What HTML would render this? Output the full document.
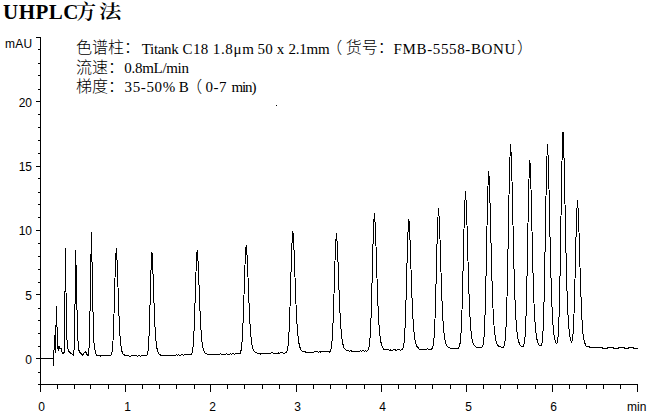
<!DOCTYPE html>
<html><head><meta charset="utf-8"><style>
html,body{margin:0;padding:0;background:#fff;}
body{width:650px;height:415px;overflow:hidden;position:relative;}
div{position:absolute;white-space:pre;color:#000;}
.t{left:3px;top:2px;font:bold 21px "Liberation Serif",serif;line-height:20px;letter-spacing:0.5px;}
.tc{top:0px;font:600 20px "Liberation Serif","Noto Serif CJK SC",serif;line-height:20px;}
.lt{font:15px "Liberation Serif",serif;line-height:20px;}
.cj{font:300 16px "Liberation Sans","Noto Sans CJK SC",sans-serif;line-height:20px;}
.yl{left:0;width:32px;text-align:right;font:12px "Liberation Sans",sans-serif;line-height:14px;}
.xl{top:400px;width:31px;text-align:center;font:12px "Liberation Sans",sans-serif;line-height:14px;}
.mau{left:5px;top:37px;font:12px "Liberation Sans",sans-serif;line-height:14px;letter-spacing:0.3px;}
.min{left:627px;top:400px;font:12px "Liberation Sans",sans-serif;line-height:14px;}
svg{position:absolute;left:0;top:0;}
</style></head><body>
<div class="t">UHPLC</div><div class="tc" style="left:76px;top:1.5px">方</div><div class="tc" style="left:99px;top:1.5px;transform:scale(1.12,0.93);transform-origin:0 0">法</div>
<div class="cj" style="left:76px;top:38px">色谱柱：</div><div class="cj" style="left:326.2px;top:38px">（</div><div class="cj" style="left:345.8px;top:38px">货号：</div><div class="cj" style="left:517px;top:38px">）</div><div class="cj" style="left:76px;top:57.5px">流速：</div><div class="cj" style="left:76px;top:76.5px">梯度：</div><div class="cj" style="left:186.2px;top:76.5px">（</div><div class="lt" style="left:141.7px;top:39px;letter-spacing:-0.3px">Titank</div><div class="lt" style="left:182.6px;top:39px;letter-spacing:0.35px">C18</div><div class="lt" style="left:212.8px;top:39px;letter-spacing:0.65px">1.8μm</div><div class="lt" style="left:257.5px;top:39px;letter-spacing:0.3px">50</div><div class="lt" style="left:276.65px;top:39px;letter-spacing:0px">x</div><div class="lt" style="left:288.4px;top:39px;letter-spacing:-0.175px">2.1mm</div><div class="lt" style="left:393.6px;top:39px;letter-spacing:0.633px">FMB-5558-BONU</div><div class="lt" style="left:124.3px;top:58px;letter-spacing:-0.3px">0.8mL/min</div><div class="lt" style="left:124.6px;top:77px;letter-spacing:0.62px">35-50%</div><div class="lt" style="left:178.85px;top:77px;letter-spacing:0px">B</div><div class="lt" style="left:205.4px;top:77px;letter-spacing:0.5px">0-7</div><div class="lt" style="left:231.4px;top:77px;letter-spacing:-1.1px">min)</div>
<div class="mau">mAU</div>
<div class="yl" style="top:353px">0</div><div class="yl" style="top:289px">5</div><div class="yl" style="top:224px">10</div><div class="yl" style="top:160px">15</div><div class="yl" style="top:96px">20</div>
<div class="xl" style="left:26px">0</div><div class="xl" style="left:112px">1</div><div class="xl" style="left:197px">2</div><div class="xl" style="left:282px">3</div><div class="xl" style="left:367px">4</div><div class="xl" style="left:453px">5</div><div class="xl" style="left:538px">6</div>
<div class="min">min</div>
<svg width="650" height="415" viewBox="0 0 650 415">
<g fill="#000" shape-rendering="crispEdges"><rect x="40" y="37" width="1" height="348"/><rect x="36" y="37" width="4" height="1"/><rect x="38" y="384" width="600" height="1"/><rect x="38" y="49" width="2" height="1"/><rect x="38" y="63" width="2" height="1"/><rect x="38" y="75" width="2" height="1"/><rect x="38" y="89" width="2" height="1"/><rect x="36" y="101" width="4" height="1"/><rect x="38" y="114" width="2" height="1"/><rect x="38" y="127" width="2" height="1"/><rect x="38" y="140" width="2" height="1"/><rect x="38" y="153" width="2" height="1"/><rect x="36" y="166" width="4" height="1"/><rect x="38" y="178" width="2" height="1"/><rect x="38" y="192" width="2" height="1"/><rect x="38" y="204" width="2" height="1"/><rect x="38" y="217" width="2" height="1"/><rect x="36" y="230" width="4" height="1"/><rect x="38" y="243" width="2" height="1"/><rect x="38" y="256" width="2" height="1"/><rect x="38" y="269" width="2" height="1"/><rect x="38" y="282" width="2" height="1"/><rect x="36" y="294" width="4" height="1"/><rect x="38" y="308" width="2" height="1"/><rect x="38" y="320" width="2" height="1"/><rect x="38" y="333" width="2" height="1"/><rect x="38" y="346" width="2" height="1"/><rect x="36" y="358" width="4" height="1"/><rect x="38" y="372" width="2" height="1"/><rect x="40" y="385" width="1" height="7"/><rect x="57" y="385" width="1" height="4"/><rect x="74" y="385" width="1" height="4"/><rect x="90" y="385" width="1" height="4"/><rect x="108" y="385" width="1" height="4"/><rect x="125" y="385" width="1" height="7"/><rect x="142" y="385" width="1" height="4"/><rect x="159" y="385" width="1" height="4"/><rect x="176" y="385" width="1" height="4"/><rect x="194" y="385" width="1" height="4"/><rect x="210" y="385" width="1" height="7"/><rect x="227" y="385" width="1" height="4"/><rect x="244" y="385" width="1" height="4"/><rect x="262" y="385" width="1" height="4"/><rect x="279" y="385" width="1" height="4"/><rect x="296" y="385" width="1" height="7"/><rect x="313" y="385" width="1" height="4"/><rect x="330" y="385" width="1" height="4"/><rect x="346" y="385" width="1" height="4"/><rect x="364" y="385" width="1" height="4"/><rect x="381" y="385" width="1" height="7"/><rect x="398" y="385" width="1" height="4"/><rect x="415" y="385" width="1" height="4"/><rect x="432" y="385" width="1" height="4"/><rect x="450" y="385" width="1" height="4"/><rect x="466" y="385" width="1" height="7"/><rect x="483" y="385" width="1" height="4"/><rect x="500" y="385" width="1" height="4"/><rect x="517" y="385" width="1" height="4"/><rect x="535" y="385" width="1" height="4"/><rect x="552" y="385" width="1" height="7"/><rect x="569" y="385" width="1" height="4"/><rect x="586" y="385" width="1" height="4"/><rect x="603" y="385" width="1" height="4"/><rect x="620" y="385" width="1" height="4"/><rect x="637" y="385" width="1" height="7"/><rect x="276" y="105" width="1" height="1"/></g>
<path shape-rendering="crispEdges" d="M40.00,358.50 L53.50,358.50 L53.50,365.50 L54.50,335.70 L55.30,352.50 L56.50,306.50 L57.40,343.00 L58.20,351.00 L59.00,346.00 L60.00,348.50 L61.00,348.00 L62.00,352.00 L63.00,353.50 L64.30,352.00 L65.50,249.00 L66.50,333.00 L67.50,347.00 L68.50,351.00 L70.00,352.50 L72.00,354.00 L73.50,355.50 L74.50,345.00 L75.70,250.40 L76.80,300.00 L77.50,333.00 L78.50,349.00 L79.50,352.00 L80.50,353.00 L82.50,355.50 L83.50,353.50 L85.50,351.50 L87.50,355.50 L88.50,355.50 L89.50,340.00 L91.40,232.20 L92.60,290.00 L93.50,337.00 L94.50,348.00 L95.50,352.50 L96.50,355.00 L98.00,355.50 L100.00,355.70 L100.50,356.15 L101.50,355.82 L102.50,355.74 L103.50,355.26 L104.50,355.66 L105.50,355.65 L106.50,355.73 L107.50,355.60 L108.50,355.75 L109.50,355.64 L110.50,355.33 L111.50,354.92 L112.50,349.41 L113.50,331.72 L114.50,296.76 L115.50,259.85 L116.30,248.40 L116.50,249.18 L117.50,270.74 L118.50,303.45 L119.50,328.59 L120.50,342.79 L121.50,349.77 L122.50,353.10 L123.50,354.31 L124.50,355.10 L125.50,355.77 L126.50,355.73 L127.50,355.65 L128.50,355.83 L129.50,356.09 L130.50,356.42 L131.50,355.62 L132.50,355.79 L133.50,355.75 L134.50,355.35 L135.50,355.74 L136.50,355.72 L137.50,356.26 L138.50,355.96 L139.50,355.59 L140.50,356.15 L141.50,355.87 L142.50,355.50 L143.50,355.76 L144.50,355.74 L145.50,355.64 L146.50,355.71 L147.50,353.89 L148.50,347.46 L149.50,325.03 L150.50,285.93 L151.50,255.06 L151.90,252.00 L152.50,258.65 L153.50,287.85 L154.50,317.32 L155.50,336.09 L156.50,345.97 L157.50,350.85 L158.50,353.49 L159.50,354.72 L160.50,354.89 L161.50,355.64 L162.50,355.14 L163.50,355.39 L164.50,355.39 L165.50,355.08 L166.50,355.44 L167.50,355.79 L168.50,355.03 L169.50,355.49 L170.50,355.20 L171.50,355.65 L172.50,355.31 L173.50,355.33 L174.50,355.30 L175.50,355.17 L176.50,354.74 L177.50,355.41 L178.50,354.69 L179.50,355.07 L180.50,355.14 L181.50,354.76 L182.50,354.99 L183.50,355.23 L184.50,354.91 L185.50,354.68 L186.50,354.15 L187.50,354.62 L188.50,354.70 L189.50,354.70 L190.50,354.51 L191.50,354.38 L192.50,351.67 L193.50,342.78 L194.50,320.85 L195.50,286.98 L196.50,257.36 L197.20,250.20 L197.50,251.47 L198.50,270.63 L199.50,299.10 L200.50,322.71 L201.50,337.59 L202.50,345.77 L203.50,350.04 L204.50,352.05 L205.50,353.51 L206.50,353.99 L207.50,354.06 L208.50,354.28 L209.50,354.28 L210.50,354.59 L211.50,354.24 L212.50,354.53 L213.50,354.60 L214.50,354.50 L215.50,354.15 L216.50,354.68 L217.50,354.16 L218.50,354.41 L219.50,354.10 L220.50,353.83 L221.50,354.31 L222.50,354.31 L223.50,354.20 L224.50,354.27 L225.50,354.02 L226.50,353.98 L227.50,354.10 L228.50,354.60 L229.50,354.31 L230.50,353.96 L231.50,354.21 L232.50,353.93 L233.50,353.92 L234.50,354.22 L235.50,353.86 L236.50,353.55 L237.50,353.72 L238.50,353.93 L239.50,353.73 L240.50,352.92 L241.50,348.32 L242.50,336.06 L243.50,311.51 L244.50,278.34 L245.50,251.53 L246.20,245.20 L246.50,246.30 L247.50,263.51 L248.50,290.66 L249.50,315.10 L250.50,331.86 L251.50,341.79 L252.50,347.26 L253.50,350.21 L254.50,351.74 L255.50,352.86 L256.50,352.85 L257.50,353.29 L258.50,353.31 L259.50,353.11 L260.50,354.12 L261.50,353.43 L262.50,353.07 L263.50,353.78 L264.50,353.14 L265.50,353.48 L266.50,353.58 L267.50,353.19 L268.50,353.22 L269.50,353.17 L270.50,353.26 L271.50,352.86 L272.50,352.94 L273.50,353.19 L274.50,353.47 L275.50,353.35 L276.50,353.60 L277.50,353.32 L278.50,353.00 L279.50,353.08 L280.50,352.58 L281.50,352.81 L282.50,352.76 L283.50,353.05 L284.50,353.11 L285.50,352.71 L286.50,352.21 L287.50,349.71 L288.50,342.31 L289.50,323.18 L290.50,290.52 L291.50,253.99 L292.50,232.45 L292.80,231.10 L293.50,237.36 L294.50,262.40 L295.50,292.20 L296.50,316.08 L297.50,331.66 L298.50,340.82 L299.50,345.97 L300.50,348.82 L301.50,350.68 L302.50,351.23 L303.50,351.82 L304.50,351.86 L305.50,351.93 L306.50,352.61 L307.50,352.03 L308.50,352.64 L309.50,352.04 L310.50,352.16 L311.50,352.34 L312.50,352.05 L313.50,352.11 L314.50,351.92 L315.50,351.83 L316.50,351.87 L317.50,351.72 L318.50,352.26 L319.50,351.77 L320.50,352.22 L321.50,351.10 L322.50,351.75 L323.50,351.87 L324.50,351.64 L325.50,351.96 L326.50,351.83 L327.50,351.58 L328.50,351.72 L329.50,352.15 L330.50,350.62 L331.50,346.84 L332.50,335.61 L333.50,311.63 L334.50,276.70 L335.50,244.98 L336.40,233.90 L336.50,234.01 L337.50,248.13 L338.50,275.94 L339.50,303.22 L340.50,323.05 L341.50,335.34 L342.50,342.41 L343.50,346.36 L344.50,348.98 L345.50,349.17 L346.50,350.28 L347.50,350.84 L348.50,350.74 L349.50,351.03 L350.50,350.95 L351.50,350.96 L352.50,351.80 L353.50,351.27 L354.50,351.09 L355.50,351.41 L356.50,351.01 L357.50,351.27 L358.50,351.12 L359.50,351.42 L360.50,350.63 L361.50,351.15 L362.50,350.97 L363.50,350.62 L364.50,351.15 L365.50,350.64 L366.50,351.22 L367.50,350.75 L368.50,349.75 L369.50,345.24 L370.50,332.12 L371.50,304.10 L372.50,263.29 L373.50,226.25 L374.40,213.30 L374.50,213.43 L375.50,229.92 L376.50,262.40 L377.50,294.27 L378.50,317.44 L379.50,331.79 L380.50,340.05 L381.50,344.66 L382.50,347.22 L383.50,349.10 L384.50,349.09 L385.50,349.66 L386.50,349.77 L387.50,349.86 L388.50,349.78 L389.50,350.30 L390.50,349.92 L391.50,350.57 L392.50,350.41 L393.50,349.90 L394.50,349.88 L395.50,349.96 L396.50,350.44 L397.50,349.85 L398.50,349.66 L399.50,350.00 L400.50,350.07 L401.50,349.72 L402.50,349.78 L403.50,347.03 L404.50,338.62 L405.50,318.07 L406.50,283.00 L407.50,243.78 L408.50,220.65 L408.80,219.20 L409.50,225.94 L410.50,252.85 L411.50,284.88 L412.50,310.55 L413.50,327.31 L414.50,337.16 L415.50,342.71 L416.50,345.79 L417.50,346.93 L418.50,348.35 L419.50,349.17 L420.50,349.24 L421.50,349.56 L422.50,349.67 L423.50,349.09 L424.50,349.55 L425.50,349.96 L426.50,349.32 L427.50,348.94 L428.50,349.37 L429.50,349.29 L430.50,349.47 L431.50,348.96 L432.50,348.29 L433.50,344.35 L434.50,332.14 L435.50,305.12 L436.50,264.14 L437.50,224.81 L438.50,208.60 L439.50,222.85 L440.50,255.28 L441.50,288.48 L442.50,313.15 L443.50,328.61 L444.50,337.54 L445.50,342.54 L446.50,345.30 L447.50,346.88 L448.50,347.16 L449.50,347.80 L450.50,348.20 L451.50,348.50 L452.50,348.47 L453.50,348.86 L454.50,348.25 L455.50,348.39 L456.50,348.48 L457.50,348.28 L458.50,348.13 L459.50,346.35 L460.50,340.87 L461.50,325.35 L462.50,294.11 L463.50,249.70 L464.50,208.65 L465.50,192.00 L466.50,207.06 L467.50,242.10 L468.50,279.18 L469.50,307.54 L470.50,325.53 L471.50,335.84 L472.50,341.46 L473.50,344.48 L474.50,345.61 L475.50,346.96 L476.50,347.06 L477.50,347.32 L478.50,347.62 L479.50,347.86 L480.50,347.61 L481.50,347.52 L482.50,346.83 L483.50,343.11 L484.50,330.59 L485.50,300.84 L486.50,251.97 L487.50,199.92 L488.50,172.19 L488.70,171.30 L489.50,183.06 L490.50,221.11 L491.50,263.98 L492.50,297.44 L493.50,318.97 L494.50,331.56 L495.50,338.64 L496.50,342.58 L497.50,345.22 L498.50,346.03 L499.50,346.49 L500.50,346.82 L501.50,347.09 L502.50,347.04 L503.50,347.01 L504.50,344.96 L505.50,337.12 L506.50,316.98 L507.50,277.45 L508.50,221.68 L509.50,169.09 L510.50,145.02 L510.60,144.80 L511.50,159.90 L512.50,201.61 L513.50,248.78 L514.50,286.90 L515.50,312.34 L516.50,327.59 L517.50,336.28 L518.50,341.13 L519.50,343.83 L520.50,345.57 L521.50,346.44 L522.50,346.22 L523.50,346.05 L524.50,342.77 L525.50,330.93 L526.50,301.58 L527.50,251.39 L528.50,195.25 L529.50,162.16 L529.80,160.10 L530.50,169.77 L531.50,208.36 L532.50,254.26 L533.50,291.06 L534.50,315.08 L535.50,329.22 L536.50,337.20 L537.50,341.65 L538.50,344.11 L539.50,345.52 L540.50,345.94 L541.50,345.41 L542.50,339.81 L543.50,322.36 L544.50,283.49 L545.50,224.43 L546.50,167.73 L547.50,144.40 L548.50,165.03 L549.50,211.90 L550.50,259.87 L551.50,295.54 L552.50,317.91 L553.50,330.85 L554.50,338.11 L555.50,342.07 L556.50,343.74 L557.50,342.04 L558.50,331.76 L559.50,303.12 L560.50,249.84 L561.50,184.31 L562.50,138.53 L563.00,132.10 L563.50,137.87 L564.50,177.19 L565.50,230.28 L566.50,275.41 L567.50,305.81 L568.50,323.97 L569.50,334.25 L570.50,339.85 L571.50,342.12 L572.50,339.84 L573.50,328.10 L574.50,300.43 L575.50,257.93 L576.50,217.01 L577.50,200.20 L578.50,215.19 L579.50,249.17 L580.50,283.93 L581.50,309.77 L582.50,330.00 L583.50,338.00 L584.50,342.00 L585.50,345.00 L586.50,346.50 L589.00,346.50 L589.50,347.50 L602.00,347.50 L602.50,348.50 L607.50,348.50 L608.00,347.50 L613.00,347.50 L613.50,348.50 L618.50,348.50 L619.00,347.50 L624.00,347.50 L624.50,348.50 L628.50,348.50 L629.00,347.50 L633.00,347.50 L633.50,348.50 L637.50,348.50" fill="none" stroke="#000" stroke-width="1" stroke-linejoin="round"/>
</svg>
</body></html>
